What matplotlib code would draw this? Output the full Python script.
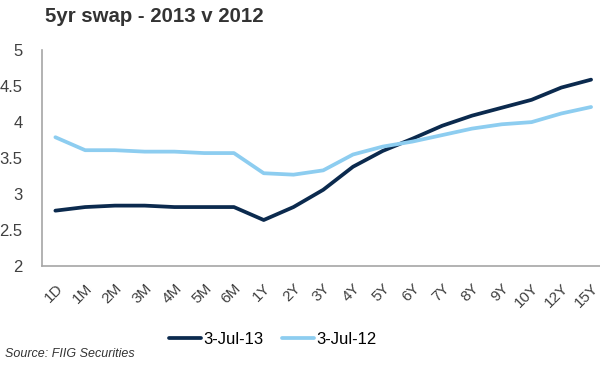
import matplotlib
matplotlib.use("Agg")
from matplotlib import pyplot as plt

# tenors and swap rates
tenors = ["1D", "1M", "2M", "3M", "4M", "5M", "6M", "1Y", "2Y", "3Y",
          "4Y", "5Y", "6Y", "7Y", "8Y", "9Y", "10Y", "12Y", "15Y"]
jul13 = [2.77, 2.82, 2.84, 2.84, 2.82, 2.82, 2.82, 2.64, 2.82, 3.06,
         3.38, 3.60, 3.77, 3.95, 4.09, 4.20, 4.31, 4.48, 4.59]
jul12 = [3.79, 3.61, 3.61, 3.59, 3.59, 3.57, 3.57, 3.29, 3.27, 3.33,
         3.55, 3.66, 3.73, 3.82, 3.91, 3.97, 4.00, 4.12, 4.21]

plt.rcParams['font.family'] = ['Liberation Sans', 'DejaVu Sans']

fig = plt.figure(figsize=(6, 3.66), dpi=100)
ax = fig.add_axes([0.07, 0.273, 0.93, 0.59])

x = range(len(tenors))
ax.plot(x, jul13, color="#0b2a4e", lw=2.7, label="3-Jul-13", solid_capstyle="round")
ax.plot(x, jul12, color="#8dcdf0", lw=2.7, label="3-Jul-12", solid_capstyle="round")

ax.set_xlim(-0.45, 18.3)
ax.set_ylim(2, 5)
ax.set_yticks([2, 2.5, 3, 3.5, 4, 4.5, 5])
ax.set_yticklabels(["2", "2.5", "3", "3.5", "4", "4.5", "5"])
ax.set_xticks(list(x))
ax.set_xticklabels(tenors, rotation=45, ha="right", rotation_mode="anchor")

ax.tick_params(axis="both", length=0, colors="#404040")
ax.tick_params(axis="y", labelsize=12, pad=14)
ax.tick_params(axis="x", labelsize=11, pad=11)
for s in ["top", "right"]:
    ax.spines[s].set_visible(False)
for s in ["left", "bottom"]:
    ax.spines[s].set_color("#a6a6a6")
    ax.spines[s].set_linewidth(1.2)

fig.text(0.075, 0.955, "5yr swap - 2013 v 2012", fontsize=14.7, fontweight="bold",
         color="#333333", va="center", ha="left")

fig.legend(loc="center", bbox_to_anchor=(0.455, 0.072), ncol=2, frameon=False,
           fontsize=12, handlelength=1.9, handletextpad=0.15, columnspacing=1.1)

fig.text(0.008, 0.032, "Source: FIIG Securities", fontsize=9, style="italic",
         color="#333333", va="center", ha="left")

fig.savefig("out.png", dpi=100)
